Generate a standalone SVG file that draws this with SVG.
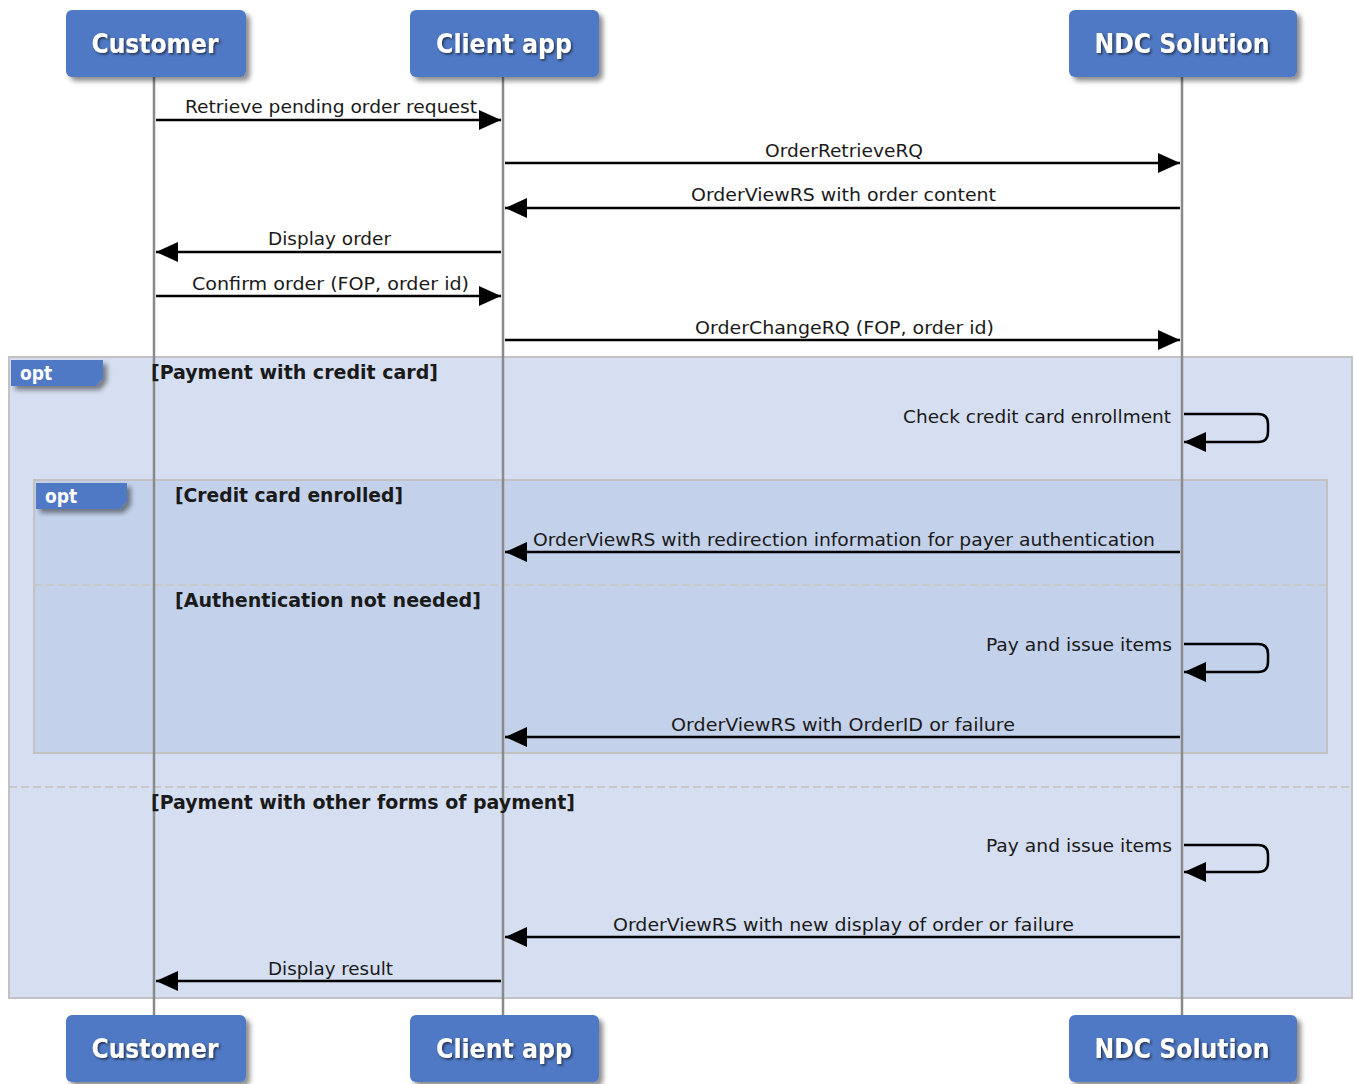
<svg xmlns="http://www.w3.org/2000/svg" width="1355" height="1084" viewBox="0 0 1355 1084">
<defs>
<style>
.head{fill:#4f79c4;}
.htxt{font-family:"DejaVu Sans Condensed","DejaVu Sans",sans-serif;font-weight:bold;font-size:26px;fill:#fff;text-anchor:middle;}
.lbl{font-family:"DejaVu Sans Condensed","DejaVu Sans",sans-serif;font-size:18px;fill:#1a1a1a;}
.grd{font-family:"DejaVu Sans Condensed","DejaVu Sans",sans-serif;font-weight:bold;font-size:19px;fill:#1a1a1a;}
.tag{font-family:"DejaVu Sans Condensed","DejaVu Sans",sans-serif;font-weight:bold;font-size:19px;fill:#fff;}
.life{stroke:#8a8a8a;stroke-width:2.5;fill:none;}
.msg{stroke:#000;stroke-width:2.5;fill:none;marker-end:url(#ah);}
.sep{stroke:#c8c8c8;stroke-width:2;stroke-dasharray:8,4;fill:none;}
</style>
<marker id="ah" viewBox="0 0 22 20" refX="22" refY="10" markerWidth="22" markerHeight="20" markerUnits="userSpaceOnUse" orient="auto">
<path d="M0,0 L22,10 L0,20 Z" fill="#000"/>
</marker>
<filter id="sh" x="-10%" y="-10%" width="130%" height="140%">
<feDropShadow dx="4" dy="4" stdDeviation="2.5" flood-color="#000" flood-opacity="0.45"/>
</filter>
<filter id="ts" x="-10%" y="-20%" width="130%" height="150%">
<feDropShadow dx="1.5" dy="1.5" stdDeviation="0.8" flood-color="#1d2a40" flood-opacity="0.9"/>
</filter>
</defs>
<rect width="1355" height="1084" fill="#fff"/>

<g id="fragments">
<rect x="9" y="357" width="1343" height="641" fill="#d6dff1" stroke="#c2c2c2" stroke-width="2"/>
<rect x="34" y="480" width="1293" height="273" fill="#c3d1ea" stroke="#c2c2c2" stroke-width="2"/>
<line class="sep" x1="34" y1="585" x2="1327" y2="585"/>
<line class="sep" x1="9" y1="787" x2="1352" y2="787"/>
</g>

<g id="lifelines">
<line class="life" x1="154" y1="77" x2="154" y2="1015"/>
<line class="life" x1="503" y1="77" x2="503" y2="1015"/>
<line class="life" x1="1182" y1="77" x2="1182" y2="1015"/>
</g>

<g id="tags">
<path d="M11,360 H103 V378 L96,386 H11 Z" class="head" filter="url(#sh)"/>
<text class="tag" x="20" y="380">opt</text>
<path d="M36,483 H127 V501 L120,509 H36 Z" class="head" filter="url(#sh)"/>
<text class="tag" x="45" y="503">opt</text>
<text class="grd" x="151" y="379" textLength="287" lengthAdjust="spacingAndGlyphs">[Payment with credit card]</text>
<text class="grd" x="175" y="502" textLength="228" lengthAdjust="spacingAndGlyphs">[Credit card enrolled]</text>
<text class="grd" x="175" y="607" textLength="306" lengthAdjust="spacingAndGlyphs">[Authentication not needed]</text>
<text class="grd" x="151" y="809" textLength="424" lengthAdjust="spacingAndGlyphs">[Payment with other forms of payment]</text>
</g>

<g id="connectors">
<line class="msg" x1="156" y1="120" x2="501" y2="120"/>
<text class="lbl" x="185" y="113" textLength="292" lengthAdjust="spacingAndGlyphs">Retrieve pending order request</text>
<line class="msg" x1="505" y1="163" x2="1180" y2="163"/>
<text class="lbl" x="765" y="157" textLength="158" lengthAdjust="spacingAndGlyphs">OrderRetrieveRQ</text>
<line class="msg" x1="1180" y1="208" x2="505" y2="208"/>
<text class="lbl" x="691" y="201" textLength="305" lengthAdjust="spacingAndGlyphs">OrderViewRS with order content</text>
<line class="msg" x1="501" y1="252" x2="156" y2="252"/>
<text class="lbl" x="268" y="245" textLength="123" lengthAdjust="spacingAndGlyphs">Display order</text>
<line class="msg" x1="156" y1="296" x2="501" y2="296"/>
<text class="lbl" x="192" y="290" textLength="277" lengthAdjust="spacingAndGlyphs">Confirm order (FOP, order id)</text>
<line class="msg" x1="505" y1="340" x2="1180" y2="340"/>
<text class="lbl" x="695" y="334" textLength="299" lengthAdjust="spacingAndGlyphs">OrderChangeRQ (FOP, order id)</text>

<path class="msg" d="M1184,414 H1258 Q1268,414 1268,424 V432 Q1268,442 1258,442 H1184"/>
<text class="lbl" x="903" y="423" textLength="268" lengthAdjust="spacingAndGlyphs">Check credit card enrollment</text>

<line class="msg" x1="1180" y1="552" x2="505" y2="552"/>
<text class="lbl" x="533" y="546" textLength="622" lengthAdjust="spacingAndGlyphs">OrderViewRS with redirection information for payer authentication</text>

<path class="msg" d="M1184,644 H1258 Q1268,644 1268,654 V662 Q1268,672 1258,672 H1184"/>
<text class="lbl" x="986" y="651" textLength="186" lengthAdjust="spacingAndGlyphs">Pay and issue items</text>

<line class="msg" x1="1180" y1="737" x2="505" y2="737"/>
<text class="lbl" x="671" y="731" textLength="344" lengthAdjust="spacingAndGlyphs">OrderViewRS with OrderID or failure</text>

<path class="msg" d="M1184,845 H1258 Q1268,845 1268,855 V862 Q1268,872 1258,872 H1184"/>
<text class="lbl" x="986" y="852" textLength="186" lengthAdjust="spacingAndGlyphs">Pay and issue items</text>

<line class="msg" x1="1180" y1="937" x2="505" y2="937"/>
<text class="lbl" x="613" y="931" textLength="461" lengthAdjust="spacingAndGlyphs">OrderViewRS with new display of order or failure</text>

<line class="msg" x1="501" y1="981" x2="156" y2="981"/>
<text class="lbl" x="268" y="975" textLength="125" lengthAdjust="spacingAndGlyphs">Display result</text>
</g>

<g id="customer-top">
<rect class="head" x="66" y="10" width="180" height="67" rx="6" filter="url(#sh)"/>
<text class="htxt" x="155" y="53" textLength="127" lengthAdjust="spacingAndGlyphs" filter="url(#ts)">Customer</text>
</g>
<g id="clientapp-top">
<rect class="head" x="410" y="10" width="189" height="67" rx="6" filter="url(#sh)"/>
<text class="htxt" x="504" y="53" textLength="136" lengthAdjust="spacingAndGlyphs" filter="url(#ts)">Client app</text>
</g>
<g id="ndc-top">
<rect class="head" x="1069" y="10" width="228" height="67" rx="6" filter="url(#sh)"/>
<text class="htxt" x="1182" y="53" textLength="175" lengthAdjust="spacingAndGlyphs" filter="url(#ts)">NDC Solution</text>
</g>
<g id="customer-bottom">
<rect class="head" x="66" y="1015" width="180" height="67" rx="6" filter="url(#sh)"/>
<text class="htxt" x="155" y="1058" textLength="127" lengthAdjust="spacingAndGlyphs" filter="url(#ts)">Customer</text>
</g>
<g id="clientapp-bottom">
<rect class="head" x="410" y="1015" width="189" height="67" rx="6" filter="url(#sh)"/>
<text class="htxt" x="504" y="1058" textLength="136" lengthAdjust="spacingAndGlyphs" filter="url(#ts)">Client app</text>
</g>
<g id="ndc-bottom">
<rect class="head" x="1069" y="1015" width="228" height="67" rx="6" filter="url(#sh)"/>
<text class="htxt" x="1182" y="1058" textLength="175" lengthAdjust="spacingAndGlyphs" filter="url(#ts)">NDC Solution</text>
</g>
</svg>
